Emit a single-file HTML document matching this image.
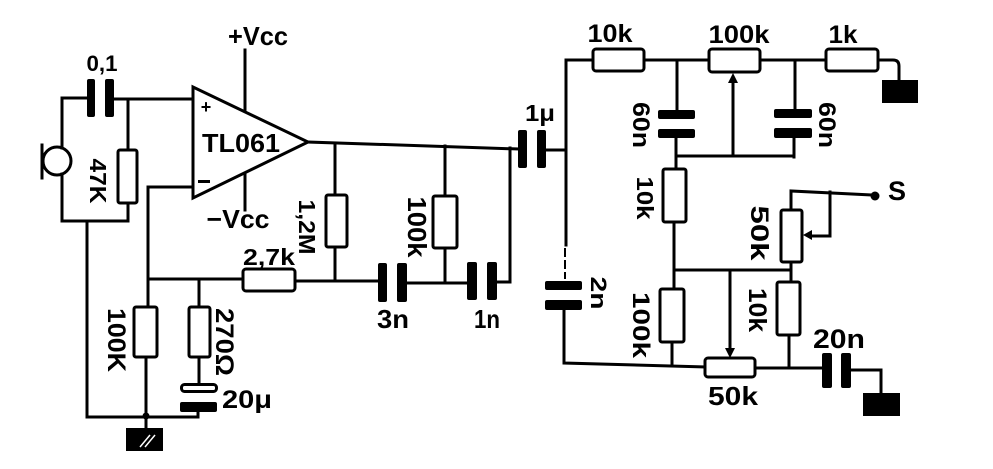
<!DOCTYPE html>
<html><head><meta charset="utf-8"><style>
html,body{margin:0;padding:0;background:#fff;}
svg{display:block;}
text{font-family:"Liberation Sans",sans-serif;font-weight:bold;fill:#000;}
</style></head><body>
<svg width="993" height="469" viewBox="0 0 993 469" xmlns="http://www.w3.org/2000/svg">
<rect x="0" y="0" width="993" height="469" fill="#fff"/>
<g stroke="#000" stroke-width="3" fill="none" stroke-linecap="square" stroke-linejoin="miter">
<!-- mic -->
<line x1="42" y1="145" x2="42" y2="178"/>
<circle cx="57" cy="161" r="14"/>
<path d="M62,148 V98 H87"/>
<path d="M62,174 V221 H128"/>
<path d="M114,99 H193"/>
<path d="M128,99 V150"/>
<rect x="118" y="150" width="19" height="53" rx="2" fill="#fff"/>
<path d="M128,203 V221"/>
<path d="M87,221 V417 H198 V411"/>
<!-- op amp -->
<polygon points="193,87 193,198 308,142" fill="#fff"/>
<path d="M245,50 V111"/>
<path d="M245,174 V210"/>
<path d="M308,142 L518,149"/>
<path d="M193,187 H148 V307"/>
<path d="M148,279 H243"/>
<rect x="243" y="269" width="52" height="22" rx="3" fill="#fff"/>
<path d="M295,281 H378"/>
<path d="M335,143 V195"/>
<rect x="326" y="195" width="21" height="52" rx="2" fill="#fff"/>
<path d="M335,247 V281"/>
<path d="M407,283 H467"/>
<path d="M445,146 V196"/>
<rect x="433" y="196" width="24" height="52" rx="2" fill="#fff"/>
<path d="M445,248 V283"/>
<path d="M497,282 H510 V148"/>
<path d="M546,150 H565"/>
<path d="M566,60 V245"/>
<path d="M565,249 V278" stroke-dasharray="7,5" stroke-width="2"/>
<path d="M564,310 V363 L705,367"/>
<rect x="705" y="358" width="50" height="19" rx="3" fill="#fff"/>
<path d="M755,368 H822"/>
<path d="M851,370 H881 V393"/>
<!-- 270 branch -->
<path d="M199,279 V307"/>
<rect x="189" y="307" width="21" height="50" rx="2" fill="#fff"/>
<path d="M199,357 V383"/>
<rect x="181.5" y="384.5" width="35" height="7" rx="3" fill="#fff"/>
<path d="M146,307 V428"/>
<rect x="134" y="307" width="23" height="50" rx="2" fill="#fff"/>
<!-- right network -->
<path d="M566,60 H593"/>
<rect x="593" y="49" width="51" height="22" rx="3" fill="#fff"/>
<path d="M644,60 H709"/>
<rect x="709" y="49" width="51" height="23" rx="3" fill="#fff"/>
<path d="M760,60 H826"/>
<rect x="826" y="49" width="52" height="22" rx="3" fill="#fff"/>
<path d="M878,60 H893 Q899,60 899,66 V80"/>
<path d="M677,60 V110"/>
<path d="M676,138 V169"/>
<path d="M676,156 H794"/>
<path d="M795,60 V109"/>
<path d="M794,138 V157"/>
<path d="M733,156 V82"/>
<rect x="663" y="169" width="23" height="53" rx="2" fill="#fff"/>
<path d="M674,222 V289"/>
<path d="M674,270 H790"/>
<rect x="781" y="210" width="21" height="52" rx="2" fill="#fff"/>
<path d="M791,262 V282"/>
<path d="M791,209 V191 L873,195"/>
<path d="M830,192 V236 H811"/>
<rect x="660" y="289" width="24" height="53" rx="2" fill="#fff"/>
<path d="M672,342 V365"/>
<path d="M730,270 V348"/>
<rect x="777" y="282" width="23" height="53" rx="2" fill="#fff"/>
<path d="M789,335 V368"/>
</g>
<!-- filled parts -->
<g fill="#000">
<rect x="87" y="79" width="8" height="38" rx="2"/>
<rect x="105" y="79" width="9" height="38" rx="2"/>
<rect x="378" y="263" width="9" height="39" rx="2"/>
<rect x="397" y="263" width="10" height="39" rx="2"/>
<rect x="467" y="262" width="10" height="38" rx="2"/>
<rect x="487" y="262" width="10" height="38" rx="2"/>
<rect x="518" y="130" width="9" height="38" rx="2"/>
<rect x="537" y="130" width="9" height="38" rx="2"/>
<rect x="545" y="281" width="37" height="9" rx="2"/>
<rect x="545" y="300" width="37" height="10" rx="2"/>
<rect x="822" y="353" width="10" height="35" rx="2"/>
<rect x="841" y="353" width="10" height="35" rx="2"/>
<rect x="180" y="402" width="37" height="10" rx="2"/>
<rect x="658" y="110" width="37" height="9" rx="2"/>
<rect x="658" y="129" width="37" height="9" rx="2"/>
<rect x="774" y="109" width="38" height="9" rx="2"/>
<rect x="774" y="128" width="38" height="10" rx="2"/>
<circle cx="146" cy="416" r="3.5"/>
<circle cx="875" cy="196" r="4.5"/>
<!-- grounds -->
<rect x="126" y="428" width="37" height="23"/>
<rect x="882" y="80" width="36" height="23"/>
<rect x="863" y="393" width="37" height="23"/>
<!-- arrowheads -->
<polygon points="733,73 728,83 738,83"/>
<polygon points="803,235 812,230 812,240"/>
<polygon points="730,358 725,348 735,348"/>
</g>
<g stroke="#fff" stroke-width="1.5">
<line x1="140" y1="447" x2="150" y2="435"/>
<line x1="145" y1="447" x2="155" y2="435"/>
</g>
<line x1="198" y1="181.5" x2="210" y2="181.5" stroke="#000" stroke-width="3"/>
<!-- labels -->
<text x="258" y="45" font-size="26" text-anchor="middle" textLength="60" lengthAdjust="spacingAndGlyphs">+Vcc</text>
<text x="238" y="228" font-size="26" text-anchor="middle" textLength="63" lengthAdjust="spacingAndGlyphs">−Vcc</text>
<text x="102" y="71" font-size="22" text-anchor="middle" textLength="31" lengthAdjust="spacingAndGlyphs">0,1</text>
<text x="206" y="113" font-size="18" text-anchor="middle">+</text>
<text x="241" y="152" font-size="26" text-anchor="middle" textLength="78" lengthAdjust="spacingAndGlyphs">TL061</text>
<text x="269" y="265" font-size="23" text-anchor="middle" textLength="52" lengthAdjust="spacingAndGlyphs">2,7k</text>
<text x="247" y="408" font-size="25" text-anchor="middle" textLength="50" lengthAdjust="spacingAndGlyphs">20μ</text>
<text x="393" y="328" font-size="26" text-anchor="middle" textLength="32" lengthAdjust="spacingAndGlyphs">3n</text>
<text x="487" y="328" font-size="26" text-anchor="middle" textLength="26" lengthAdjust="spacingAndGlyphs">1n</text>
<text x="540" y="121" font-size="23" text-anchor="middle" textLength="30" lengthAdjust="spacingAndGlyphs">1μ</text>
<text x="610" y="42" font-size="25" text-anchor="middle" textLength="45" lengthAdjust="spacingAndGlyphs">10k</text>
<text x="739" y="43" font-size="25" text-anchor="middle" textLength="61" lengthAdjust="spacingAndGlyphs">100k</text>
<text x="843" y="43" font-size="25" text-anchor="middle" textLength="29" lengthAdjust="spacingAndGlyphs">1k</text>
<text x="897" y="200" font-size="27" text-anchor="middle">S</text>
<text x="839" y="348" font-size="27" text-anchor="middle" textLength="52" lengthAdjust="spacingAndGlyphs">20n</text>
<text x="733" y="405" font-size="26" text-anchor="middle" textLength="50" lengthAdjust="spacingAndGlyphs">50k</text>
<!-- rotated labels -->
<text transform="translate(98,181) rotate(90)" dy="8" font-size="23" text-anchor="middle" textLength="45" lengthAdjust="spacingAndGlyphs">47K</text>
<text transform="translate(117,340) rotate(90)" dy="9" font-size="25" text-anchor="middle" textLength="64" lengthAdjust="spacingAndGlyphs">100K</text>
<text transform="translate(225,342) rotate(90)" dy="9" font-size="25" text-anchor="middle" textLength="68" lengthAdjust="spacingAndGlyphs">270Ω</text>
<text transform="translate(307,227) rotate(90)" dy="8" font-size="23" text-anchor="middle" textLength="55" lengthAdjust="spacingAndGlyphs">1,2M</text>
<text transform="translate(417,227) rotate(90)" dy="9" font-size="26" text-anchor="middle" textLength="61" lengthAdjust="spacingAndGlyphs">100k</text>
<text transform="translate(598,293) rotate(90)" dy="7" font-size="22" text-anchor="middle" textLength="33" lengthAdjust="spacingAndGlyphs">2n</text>
<text transform="translate(641,125) rotate(90)" dy="8" font-size="24" text-anchor="middle" textLength="46" lengthAdjust="spacingAndGlyphs">60n</text>
<text transform="translate(827,125) rotate(90)" dy="8" font-size="24" text-anchor="middle" textLength="46" lengthAdjust="spacingAndGlyphs">60n</text>
<text transform="translate(645,198) rotate(90)" dy="8" font-size="23" text-anchor="middle" textLength="43" lengthAdjust="spacingAndGlyphs">10k</text>
<text transform="translate(760,233) rotate(90)" dy="9" font-size="25" text-anchor="middle" textLength="55" lengthAdjust="spacingAndGlyphs">50k</text>
<text transform="translate(641,325) rotate(90)" dy="8" font-size="24" text-anchor="middle" textLength="66" lengthAdjust="spacingAndGlyphs">100k</text>
<text transform="translate(758,310) rotate(90)" dy="9" font-size="25" text-anchor="middle" textLength="44" lengthAdjust="spacingAndGlyphs">10k</text>
</svg>
</body></html>
